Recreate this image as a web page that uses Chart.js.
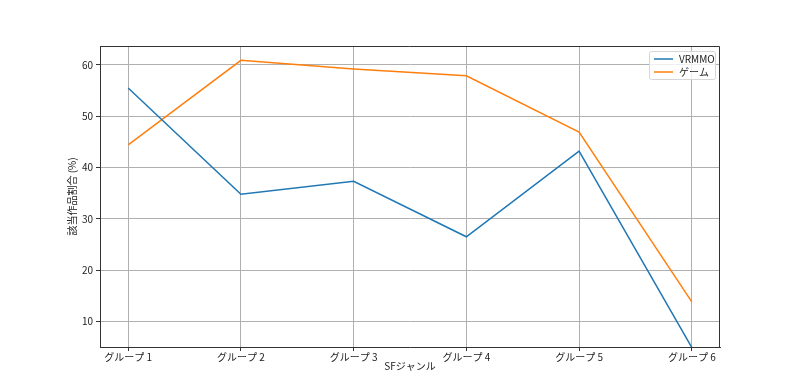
<!DOCTYPE html>
<html>
<head>
<meta charset="utf-8">
<script src="https://cdn.jsdelivr.net/npm/chart.js@4"></script>
<style>
  html, body { margin: 0; padding: 0; background: #fff; }
  #wrap { width: 800px; height: 389px; }
</style>
</head>
<body>
<div id="wrap"><canvas id="myChart" width="800" height="389"></canvas></div>
<script>
var groups = ['グループ 1', 'グループ 2', 'グループ 3', 'グループ 4', 'グループ 5', 'グループ 6'];
var vrmmo = [55.5, 34.8, 37.3, 26.5, 43.2, 4.9];
var game = [44.4, 60.9, 59.2, 57.9, 46.9, 13.8];
var yTicks = [10, 20, 30, 40, 50, 60];
var seriesNames = ['VRMMO', 'ゲーム'];

var FONT = '"Noto Sans CJK JP", "DejaVu Sans", sans-serif';
Chart.defaults.font.family = FONT;
Chart.defaults.color = '#222';

function pts(arr) {
  return arr.map(function (v, i) { return { x: i, y: v }; });
}

// top/right spines + matplotlib style legend
var framePlugin = {
  id: 'frame',
  afterDraw: function (chart) {
    var a = chart.chartArea, c = chart.ctx;
    c.save();
    c.strokeStyle = '#333';
    c.lineWidth = 1;
    c.beginPath();
    c.moveTo(a.left, a.top + 0.5);
    c.lineTo(a.right - 0.5, a.top + 0.5);
    c.lineTo(a.right - 0.5, a.bottom);
    c.stroke();

    var bw = 66, bh = 28;
    var bx = a.right - 5 - bw, by = a.top + 5;
    c.fillStyle = 'rgba(255,255,255,0.8)';
    c.strokeStyle = '#d6d6d6';
    c.beginPath();
    c.roundRect(bx + 0.5, by + 0.5, bw, bh, 2);
    c.fill();
    c.stroke();
    c.font = '10px ' + FONT;
    c.textBaseline = 'middle';
    chart.data.datasets.forEach(function (ds, i) {
      var ly = by + 8 + i * 13;
      c.strokeStyle = ds.borderColor;
      c.lineWidth = 1.5;
      c.beginPath();
      c.moveTo(bx + 5, ly);
      c.lineTo(bx + 24, ly);
      c.stroke();
      c.fillStyle = '#222';
      c.fillText(ds.label, bx + 30, ly);
    });
    c.restore();
  }
};

var ctx = document.getElementById('myChart').getContext('2d');
var myChart = new Chart(ctx, {
  type: 'line',
  data: {
    datasets: [{
      label: seriesNames[0],
      data: pts(vrmmo),
      borderColor: '#1f77b4',
      borderWidth: 1.5,
      pointRadius: 0,
      tension: 0
    }, {
      label: seriesNames[1],
      data: pts(game),
      borderColor: '#ff7f0e',
      borderWidth: 1.5,
      pointRadius: 0,
      tension: 0
    }]
  },
  options: {
    responsive: false,
    animation: false,
    layout: { padding: { left: 64, right: 80, top: 46, bottom: 13 } },
    plugins: {
      legend: { display: false },
      tooltip: { enabled: false }
    },
    scales: {
      x: {
        type: 'linear',
        min: -0.25,
        max: 5.25,
        afterBuildTicks: function (scale) {
          scale.ticks = groups.map(function (g, i) { return { value: i }; });
        },
        afterFit: function (scale) { scale.height = 29; },
        ticks: {
          padding: 0,
          font: { size: 10 },
          maxRotation: 0,
          callback: function (v) { return groups[v]; }
        },
        grid: { color: '#b0b0b0', tickLength: 4, tickColor: '#333' },
        border: { color: '#333', width: 1 },
        title: { display: true, text: 'SFジャンル', font: { size: 10 }, padding: { top: 2, bottom: 4 } }
      },
      y: {
        min: 5,
        max: 63.7,
        afterBuildTicks: function (scale) {
          scale.ticks = yTicks.map(function (v) { return { value: v }; });
        },
        afterFit: function (scale) { scale.width = 36; },
        ticks: { padding: 3, font: { size: 10 } },
        grid: { color: '#b0b0b0', tickLength: 4, tickColor: '#333' },
        border: { color: '#333', width: 1 },
        title: { display: true, text: '該当作品割合 (%)', font: { size: 10 }, padding: { top: 2, bottom: 2 } }
      }
    }
  },
  plugins: [framePlugin]
});
</script>
</body>
</html>
